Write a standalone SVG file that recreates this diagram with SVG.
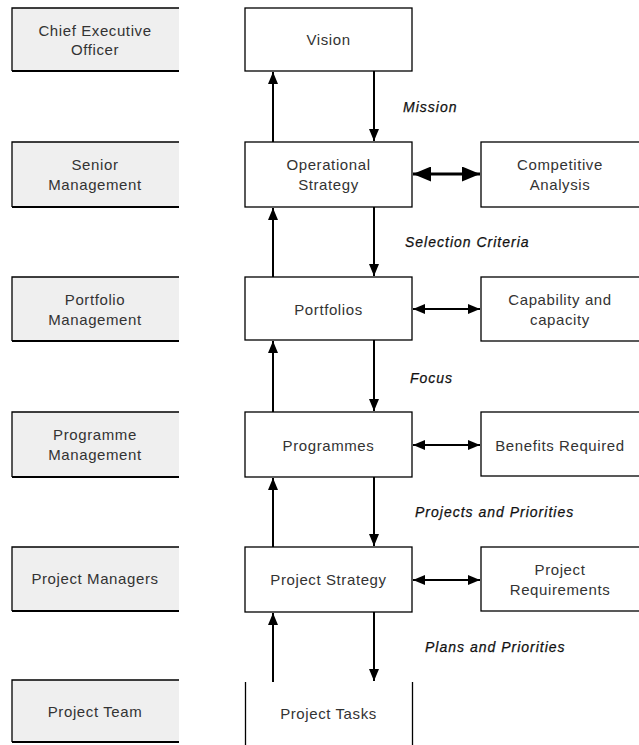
<svg xmlns="http://www.w3.org/2000/svg" width="639" height="745" viewBox="0 0 639 745">
<style>
.lf{fill:#efefef;stroke:none}
.le{fill:none;stroke:#000;stroke-width:1.3}
.lb{stroke:#000;stroke-width:2.2}
.box{fill:#fff;stroke:#000;stroke-width:1.3}
.t{font-family:"Liberation Sans",Arial,sans-serif;font-size:15px;letter-spacing:0.6px;fill:#333;text-anchor:middle}
.lab{font-family:"Liberation Sans",Arial,sans-serif;font-size:14px;letter-spacing:1px;font-style:italic;fill:#111;stroke:#111;stroke-width:0.25}
.c{stroke:#000;stroke-width:2;fill:none}
</style>
<defs>
<marker id="ah" viewBox="0 0 12 10" refX="12" refY="5" markerWidth="6" markerHeight="5" orient="auto-start-reverse" markerUnits="strokeWidth">
<path d="M0,0 L12,5 L0,10 z" fill="#000"/>
</marker>
</defs>
<rect width="639" height="745" fill="#fff"/>
<g id="role-ceo">
<rect class="lf" x="12" y="8" width="167" height="63"/>
<path class="le" d="M179,8 H12 V71"/><line class="lb" x1="12" y1="71" x2="179" y2="71"/>
<text class="t" x="95" y="36">Chief Executive</text><text class="t" x="95" y="55">Officer</text>
</g>
<g id="role-senior">
<rect class="lf" x="12" y="142" width="167" height="65"/>
<path class="le" d="M179,142 H12 V207"/><line class="lb" x1="12" y1="207" x2="179" y2="207"/>
<text class="t" x="95" y="170">Senior</text><text class="t" x="95" y="190">Management</text>
</g>
<g id="role-portfolio">
<rect class="lf" x="12" y="277" width="167" height="64"/>
<path class="le" d="M179,277 H12 V341"/><line class="lb" x1="12" y1="341" x2="179" y2="341"/>
<text class="t" x="95" y="305">Portfolio</text><text class="t" x="95" y="325">Management</text>
</g>
<g id="role-programme">
<rect class="lf" x="12" y="412" width="167" height="65"/>
<path class="le" d="M179,412 H12 V477"/><line class="lb" x1="12" y1="477" x2="179" y2="477"/>
<text class="t" x="95" y="440">Programme</text><text class="t" x="95" y="460">Management</text>
</g>
<g id="role-pm">
<rect class="lf" x="12" y="547" width="167" height="64"/>
<path class="le" d="M179,547 H12 V611"/><line class="lb" x1="12" y1="611" x2="179" y2="611"/>
<text class="t" x="95" y="584">Project Managers</text>
</g>
<g id="role-team">
<rect class="lf" x="12" y="680" width="167" height="62"/>
<path class="le" d="M179,680 H12 V742"/><line class="lb" x1="12" y1="742" x2="179" y2="742"/>
<text class="t" x="95" y="717">Project Team</text>
</g>
<g id="vision"><rect class="box" x="245" y="8" width="167" height="63"/><text class="t" x="328.5" y="45">Vision</text></g>
<g id="opstrat"><rect class="box" x="245" y="142" width="167" height="65"/><text class="t" x="328.5" y="170">Operational</text><text class="t" x="328.5" y="190">Strategy</text></g>
<g id="portfolios"><rect class="box" x="245" y="277" width="167" height="63"/><text class="t" x="328.5" y="315">Portfolios</text></g>
<g id="programmes"><rect class="box" x="245" y="412" width="167" height="65"/><text class="t" x="328.5" y="451">Programmes</text></g>
<g id="projstrat"><rect class="box" x="245" y="547" width="167" height="65"/><text class="t" x="328.5" y="585">Project Strategy</text></g>
<g id="tasks"><path class="le" d="M245.5,682 V745 M412.5,682 V745"/><text class="t" x="328.5" y="719">Project Tasks</text></g>
<g id="competitive"><rect class="box" x="481" y="142" width="160" height="65"/><text class="t" x="560" y="170">Competitive</text><text class="t" x="560" y="190">Analysis</text></g>
<g id="capability"><rect class="box" x="481" y="277" width="160" height="64"/><text class="t" x="560" y="305">Capability and</text><text class="t" x="560" y="325">capacity</text></g>
<g id="benefits"><rect class="box" x="481" y="412" width="160" height="64"/><text class="t" x="560" y="451">Benefits Required</text></g>
<g id="requirements"><rect class="box" x="481" y="547" width="160" height="64"/><text class="t" x="560" y="575">Project</text><text class="t" x="560" y="595">Requirements</text></g>
<g id="connectors">
<line class="c" x1="273" y1="142" x2="273" y2="72" marker-end="url(#ah)"/>
<line class="c" x1="374" y1="71" x2="374" y2="141" marker-end="url(#ah)"/>
<line class="c" x1="273" y1="277" x2="273" y2="208" marker-end="url(#ah)"/>
<line class="c" x1="374" y1="207" x2="374" y2="276" marker-end="url(#ah)"/>
<line class="c" x1="273" y1="412" x2="273" y2="341" marker-end="url(#ah)"/>
<line class="c" x1="374" y1="340" x2="374" y2="411" marker-end="url(#ah)"/>
<line class="c" x1="273" y1="547" x2="273" y2="478" marker-end="url(#ah)"/>
<line class="c" x1="374" y1="477" x2="374" y2="546" marker-end="url(#ah)"/>
<line class="c" x1="273" y1="682" x2="273" y2="613" marker-end="url(#ah)"/>
<line class="c" x1="374" y1="612" x2="374" y2="681" marker-end="url(#ah)"/>
<line class="c" style="stroke-width:3" x1="413" y1="174" x2="480" y2="174" marker-start="url(#ah)" marker-end="url(#ah)"/>
<line class="c" x1="413" y1="309" x2="480" y2="309" marker-start="url(#ah)" marker-end="url(#ah)"/>
<line class="c" x1="413" y1="445" x2="480" y2="445" marker-start="url(#ah)" marker-end="url(#ah)"/>
<line class="c" x1="413" y1="580" x2="480" y2="580" marker-start="url(#ah)" marker-end="url(#ah)"/>
<text class="lab" x="403" y="112">Mission</text>
<text class="lab" x="405" y="247">Selection Criteria</text>
<text class="lab" x="410" y="383">Focus</text>
<text class="lab" x="415" y="517">Projects and Priorities</text>
<text class="lab" x="425" y="652">Plans and Priorities</text>
</g>
</svg>
